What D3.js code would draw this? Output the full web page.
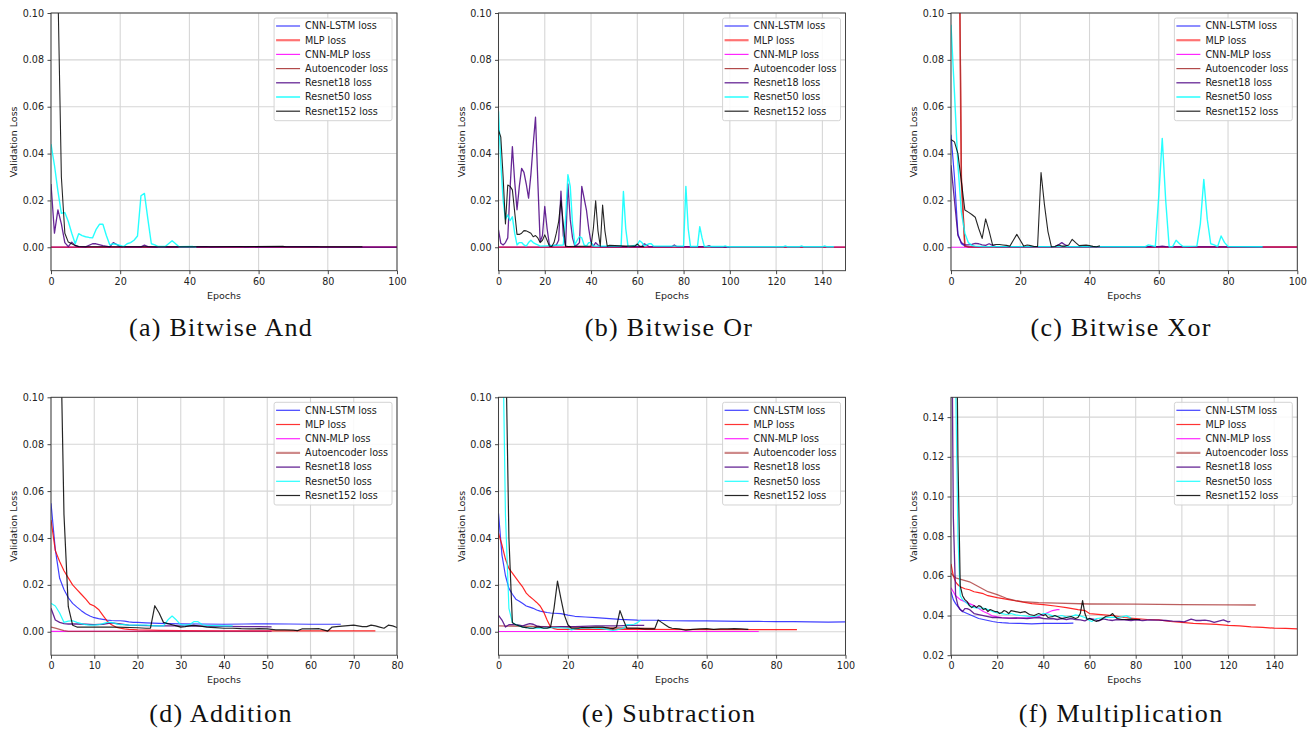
<!DOCTYPE html>
<html>
<head>
<title>Validation loss curves</title>
<script src="https://d3js.org/d3.v7.min.js"></script>
<style>
  body { margin: 0; background: #fff; font-family: "DejaVu Sans", sans-serif; }
  .tick text { font-size: 9.6px; fill: #222; font-family: "DejaVu Sans", sans-serif; }
  .tick line { stroke: #333; stroke-width: 0.9; }
  .lbl { font-size: 9.5px; fill: #222; }
  .leg { font-size: 9.6px; fill: #222; }
  .cap { font-family: "Liberation Serif", serif; font-size: 26px; letter-spacing: 1.3px; fill: #111; }
</style>
</head>
<body>
<svg id="fig" width="1315" height="730"></svg>
<script>
// legend entries and colours, in drawing order
var models = ["CNN-LSTM loss", "MLP loss", "CNN-MLP loss", "Autoencoder loss",
              "Resnet18 loss", "Resnet50 loss", "Resnet152 loss"];
var modelColors = ["#0000ff", "#ff0000", "#ff00ff", "#a52a2a", "#4b0082", "#00ffff", "#000000"];

var captions = ["(a) Bitwise And", "(b) Bitwise Or", "(c) Bitwise Xor",
                "(d) Addition", "(e) Subtraction", "(f) Multiplication"];

var ticks100 = [0, 20, 40, 60, 80, 100];
var ticks150 = [0, 20, 40, 60, 80, 100, 120, 140];
var ticks80 = [0, 10, 20, 30, 40, 50, 60, 70, 80];
var lossTicks = [0, 0.02, 0.04, 0.06, 0.08, 0.10];
var mulTicks = [0.02, 0.04, 0.06, 0.08, 0.10, 0.12, 0.14];

// each series: [epoch, validation loss]
var andLoss = [
  [[0,0],[100,0]],
  [[0,0],[100,0]],
  [[0,0],[100,0]],
  [[0,0],[100,0]],
  [[0,.027],[1,.006],[2,.016],[3,.010],[4,.002],[5,.0003],[6,.0022],[7,.0008],[8,.0003],[10,.0002],[12,.0015],[13,.0015],[15,.0007],[17,.0002],[18,.002],[19,.0012],[20,.0003],[26,.0002],[27,.0009],[28,.0003],[30,.0001],[45,.0003],[46,.0001],[55,.0003],[56,.0001],[77,.0003],[78,.0001],[100,.0001]],
  [[0,.044],[1,.035],[2,.024],[3,.0145],[4,.0148],[5,.011],[6,.006],[7,.0015],[8,.0058],[9,.005],[10,.0045],[11,.0042],[12,.004],[13,.0075],[14,.0098],[15,.0098],[16,.005],[17,.001],[18,.0015],[19,.0012],[20,.0008],[21,.0003],[22,.0015],[23,.002],[24,.003],[25,.0048],[26,.022],[27,.023],[28,.012],[29,.0015],[30,.001],[31,.0003],[33,.0003],[35,.0028],[36,.0015],[37,.0002],[41,.0003],[42,.0001]],
  [[0,.6],[1,.3],[2,.11],[3,.03],[4,.006],[5,.0022],[6,.0015],[7,.0007],[8,.0003],[10,.0002],[20,.0002],[40,.0002],[67,.0004],[68,.0002],[90,.0002]]
];

var orLoss = [
  [[0,0],[150,0]],
  [[0,0],[150,0]],
  [[0,0],[150,0]],
  [[0,0],[150,0]],
  [[0,.0074],[1,.0017],[2,.001],[3,.002],[4,.004],[5,.025],[6,.043],[7,.028],[8,.016],[9,.026],[10,.0337],[11,.032],[12,.027],[13,.021],[14,.031],[15,.044],[16,.0555],[17,.028],[18,.0024],[19,.005],[20,.0174],[21,.008],[22,.001],[23,.0005],[25,.001],[26,.003],[27,.024],[28,.005],[29,.0005],[30,.027],[31,.012],[32,.004],[33,.0005],[34,.001],[35,.002],[36,.026],[37,.021],[38,.016],[39,.008],[40,.002],[41,.0005],[42,.002],[43,.001],[44,.0003],[62,.0003],[63,.0015],[64,.001],[65,.0003],[75,.0003],[76,.001],[77,.0003],[90,.0003],[91,.0007],[92,.0002],[100,.0001]],
  [[0,.058],[1,.036],[2,.02],[3,.012],[4,.0138],[5,.0114],[6,.013],[7,.006],[8,.001],[9,.002],[10,.002],[11,.001],[12,.0005],[13,.002],[14,.003],[15,.002],[16,.0015],[17,.001],[18,.0005],[28,.001],[29,.012],[30,.031],[31,.026],[32,.01],[33,.001],[34,.003],[35,.0046],[36,.004],[37,.001],[38,.0005],[39,.002],[40,.002],[41,.0005],[53,.0005],[54,.0238],[55,.008],[56,.0003],[60,.001],[61,.0028],[62,.002],[63,.0005],[64,.001],[65,.0015],[66,.0015],[67,.0005],[80,.0005],[81,.026],[82,.008],[83,.0003],[86,.0003],[87,.0088],[88,.004],[89,.0003],[97,.0003],[98,.0006],[99,.0002],[123,.0002],[124,.0006],[125,.0002],[130,.0002],[131,.0006],[132,.0002],[140,.0002],[141,.0006],[142,.0002],[145,.0002]],
  [[0,.05],[1,.047],[2,.03],[3,.01],[4,.0266],[5,.026],[6,.0245],[7,.015],[8,.0055],[9,.0055],[10,.006],[11,.0071],[12,.007],[13,.0065],[14,.006],[15,.0045],[16,.005],[17,.004],[18,.002],[19,.003],[20,.0053],[21,.003],[22,.0005],[23,.0003],[24,.002],[25,.006],[26,.011],[27,.02],[28,.01],[29,.0005],[30,.0003],[40,.0005],[41,.008],[42,.0198],[43,.007],[44,.0005],[45,.018],[46,.007],[47,.0005],[48,.0008],[55,.0005],[59,.0005],[60,.0014],[61,.0005],[63,.0002]]
];

var xorLoss = [
  [[0,.048],[1,.03],[2,.0057],[3,.0015],[4,.0005],[5,.0003],[8,.0001],[100,.0001]],
  [[0,.6],[1,.4],[2,.19],[3,.028],[4,.0005],[5,.0001],[100,.0001]],
  [[0,0],[100,0]],
  [[0,.6],[1,.4],[2,.205],[3,.03],[4,.0005],[5,.0001],[100,.0001]],
  [[0,.035],[1,.02],[2,.005],[3,.002],[4,.001],[5,.001],[6,.0012],[7,.0017],[8,.0015],[9,.001],[10,.0008],[11,.0015],[12,.0008],[13,.0003],[30,.0003],[31,.001],[32,.002],[33,.001],[34,.0003],[60,.0003],[61,.0005],[62,.0003],[90,.0002]],
  [[0,.095],[1,.066],[2,.035],[3,.015],[4,.006],[5,.002],[6,.0008],[7,.0005],[9,.0003],[56,.0002],[57,.001],[58,.0007],[59,.0003],[60,.022],[61,.0465],[62,.02],[63,.0002],[64,.0003],[65,.003],[66,.0015],[67,.0003],[71,.0005],[72,.01],[73,.029],[74,.012],[75,.0015],[76,.001],[77,.0003],[78,.0048],[79,.002],[80,.0003],[90,.0002]],
  [[0,.046],[1,.045],[2,.04],[3,.028],[4,.0159],[5,.015],[6,.014],[7,.0128],[8,.008],[9,.0038],[10,.0121],[11,.007],[12,.001],[13,.0012],[14,.0012],[15,.001],[16,.0008],[17,.0005],[18,.003],[19,.0055],[20,.003],[21,.0005],[22,.001],[23,.0007],[24,.0003],[25,.0003],[26,.0319],[27,.018],[28,.0067],[29,.0002],[30,.0003],[31,.001],[32,.0005],[33,.0005],[34,.001],[35,.0034],[36,.002],[37,.0007],[38,.0008],[39,.0009],[40,.0007],[41,.0004],[42,.0002],[43,.0006]]
];

var addLoss = [
  [[0,.0548],[1,.035],[2,.0228],[3,.018],[4,.0145],[5,.0121],[6,.0105],[7,.009],[8,.0077],[9,.0067],[10,.006],[11,.0056],[12,.0053],[13,.005],[14,.0048],[15,.0047],[16,.0047],[17,.0045],[18,.0042],[19,.004],[20,.004],[22,.0038],[25,.0036],[30,.0034],[35,.0033],[40,.0032],[45,.0033],[50,.0034],[55,.0033],[60,.0032],[65,.0032],[67,.0032]],
  [[0,.0477],[1,.0346],[2,.03],[3,.026],[4,.023],[5,.02],[6,.018],[7,.016],[8,.014],[9,.0118],[10,.011],[11,.0095],[12,.007],[13,.0045],[14,.003],[15,.002],[16,.0015],[17,.0012],[18,.001],[20,.0008],[25,.0006],[30,.0005],[40,.0004],[50,.0004],[60,.0004],[75,.0004]],
  [[0,.0002],[51,.0002]],
  [[0,.002],[1,.0015],[2,.001],[3,.0005],[4,.0002],[51,.0002]],
  [[0,.01],[1,.005],[2,.004],[3,.0035],[4,.0033],[6,.0033],[8,.0032],[10,.003],[12,.0032],[14,.0038],[16,.0033],[18,.0028],[20,.0027],[25,.0025],[30,.0025],[35,.0024],[40,.0023],[45,.0022],[48,.0022],[51,.0021]],
  [[0,.0121],[1,.011],[2,.008],[3,.004],[4,.0045],[5,.0047],[6,.004],[7,.0035],[8,.003],[9,.0028],[10,.0028],[11,.003],[12,.0035],[13,.004],[14,.004],[15,.0035],[16,.003],[17,.003],[18,.0028],[20,.0028],[22,.0028],[24,.0025],[26,.0025],[27,.005],[28,.0067],[29,.005],[30,.003],[31,.0028],[32,.003],[33,.0043],[34,.0043],[35,.003],[36,.0027],[38,.0026],[40,.0025],[42,.0025]],
  [[0,.3],[1,.2],[2,.15],[3,.05],[4,.0107],[5,.0028],[6,.002],[7,.002],[10,.002],[15,.002],[20,.0017],[22,.0015],[23,.0015],[24,.0111],[25,.008],[26,.004],[27,.0035],[28,.003],[29,.0025],[30,.002],[31,.0022],[32,.0025],[33,.0027],[34,.0025],[35,.0023],[36,.002],[38,.0018],[40,.0015],[42,.0015],[44,.0013],[46,.0012],[48,.0013],[50,.0012],[52,.0008],[54,.0008],[56,.0007],[57,.0005],[58,.0012],[60,.0012],[62,.0013],[63,.0008],[64,.0003],[65,.002],[66,.0022],[68,.0025],[70,.0028],[72,.0022],[73,.0022],[74,.0028],[75,.0025],[76,.002],[77,.0015],[78,.0028],[79,.0025],[80,.0018]]
];

var subLoss = [
  [[0,.0505],[1,.0327],[2,.024],[3,.0185],[4,.016],[5,.0139],[6,.013],[7,.012],[8,.011],[9,.0105],[10,.01],[11,.0093],[12,.0088],[13,.0085],[14,.0082],[15,.008],[16,.0079],[18,.0077],[20,.0071],[22,.0066],[25,.0063],[28,.006],[30,.0058],[35,.0053],[40,.005],[45,.0049],[50,.0047],[55,.0046],[60,.0046],[65,.0045],[70,.0044],[75,.0044],[80,.0043],[85,.0043],[90,.0042],[95,.0041],[100,.0042]],
  [[0,.042],[1,.037],[2,.031],[3,.027],[4,.025],[5,.023],[6,.021],[7,.019],[8,.0165],[9,.015],[10,.0138],[11,.0125],[12,.011],[13,.0085],[14,.005],[15,.002],[16,.0013],[17,.001],[20,.001],[40,.001],[60,.0009],[86,.0009]],
  [[0,.0001],[75,.0001]],
  [[0,.0025],[10,.0023],[20,.002],[30,.0017],[40,.0015],[45,.0014]],
  [[0,.007],[1,.005],[2,.002],[3,.003],[4,.003],[5,.003],[6,.0028],[7,.0025],[8,.003],[9,.0035],[10,.0032],[11,.0025],[12,.0022],[14,.002],[16,.002],[18,.0022],[20,.0022],[22,.0022],[24,.0023],[26,.0024],[28,.0025],[30,.0025],[32,.0025],[34,.0025],[36,.0026],[38,.0027],[40,.0027],[42,.0027]],
  [[0,.4],[1,.15],[2,.05],[3,.01],[4,.004],[5,.003],[6,.0025],[7,.002],[8,.0018],[10,.0015],[12,.0015],[14,.0016],[16,.0017],[18,.0017],[20,.0015],[21,.0008],[22,.0012],[24,.0015],[26,.0018],[28,.0015],[30,.0013],[32,.0008],[33,.0006],[34,.0008],[36,.0015],[37,.003],[38,.003],[39,.0032],[40,.0038],[41,.005]],
  [[0,.5],[1,.3],[2,.13],[3,.04],[4,.0038],[5,.003],[6,.0025],[7,.002],[8,.0018],[9,.0015],[10,.0015],[11,.002],[12,.002],[13,.0015],[14,.0015],[15,.002],[16,.01],[17,.0216],[18,.014],[19,.007],[20,.003],[21,.0015],[22,.0015],[23,.0015],[24,.0018],[26,.0018],[28,.002],[30,.002],[32,.0015],[33,.0013],[34,.002],[35,.009],[36,.005],[37,.0015],[38,.0015],[40,.0015],[42,.0012],[44,.0012],[45,.0012],[46,.005],[47,.004],[48,.003],[49,.002],[50,.0015],[52,.0012],[54,.0007],[56,.001],[58,.0012],[60,.0013],[62,.001],[64,.0012],[66,.0012],[68,.0013],[70,.0012],[72,.001]]
];

var mulLoss = [
  [[0,.052],[1,.048],[2,.046],[3,.0445],[4,.043],[5,.042],[6,.0415],[8,.0405],[10,.0395],[12,.0385],[14,.038],[16,.0375],[18,.037],[20,.0366],[22,.0364],[25,.0362],[30,.036],[35,.0358],[40,.036],[45,.036],[50,.036],[53,.0362]],
  [[0,.066],[1,.06],[2,.057],[3,.0555],[4,.0545],[6,.0535],[8,.053],[10,.052],[12,.0515],[14,.051],[16,.05],[18,.0495],[20,.049],[25,.048],[30,.047],[35,.046],[40,.0455],[45,.0448],[50,.044],[55,.043],[58,.0425],[60,.041],[65,.0405],[70,.04],[75,.039],[80,.0385],[85,.038],[90,.0378],[95,.037],[100,.0365],[105,.036],[110,.0358],[115,.0355],[120,.035],[125,.0348],[130,.0343],[135,.034],[140,.0336],[145,.0335],[150,.0333]],
  [[0,.054],[1,.052],[2,.05],[4,.048],[6,.047],[8,.046],[10,.045],[12,.0435],[14,.042],[16,.041],[18,.0398],[20,.0393],[22,.039],[25,.0387],[28,.0386],[30,.0387],[33,.0388],[36,.039],[38,.0395],[40,.0405],[42,.0415],[44,.0425],[46,.043],[47,.043]],
  [[0,.0613],[2,.059],[5,.058],[8,.057],[12,.0545],[16,.052],[20,.0505],[24,.0487],[28,.0475],[31,.047],[38,.0465],[46,.0462],[60,.0458],[80,.0457],[100,.0455],[120,.0454],[132,.0453]],
  [[0,.25],[1,.09],[2,.05],[3,.045],[4,.043],[5,.042],[6,.0435],[7,.0435],[8,.043],[9,.042],[10,.041],[12,.0405],[14,.04],[16,.0395],[18,.039],[20,.039],[22,.0388],[25,.0387],[28,.0388],[30,.0387],[33,.0385],[36,.0388],[38,.039],[40,.0385],[42,.0383],[44,.0385],[46,.038],[48,.0385],[50,.038],[52,.0385],[54,.038],[56,.0378],[58,.0373],[60,.0385],[62,.038],[64,.0373],[66,.0383],[68,.0378],[70,.0375],[72,.038],[75,.0378],[78,.0375],[80,.0378],[83,.0375],[86,.0378],[90,.0377],[93,.0375],[96,.0372],[99,.037],[101,.0368],[104,.0382],[106,.0375],[108,.0375],[110,.0377],[112,.0373],[114,.0365],[116,.0372],[118,.0378],[120,.0368],[121,.037]],
  [[0,.5],[1,.3],[2,.16],[3,.08],[4,.05],[5,.048],[6,.047],[7,.046],[8,.045],[10,.044],[12,.0438],[14,.0437],[16,.043],[18,.042],[20,.0415],[22,.041],[24,.0405],[26,.041],[28,.0403],[30,.04],[32,.0398],[34,.0395],[36,.0395],[38,.04],[40,.041],[42,.0408],[44,.0398],[46,.0395],[48,.04],[50,.0392],[52,.0395],[54,.0403],[56,.0398],[58,.039],[60,.0375],[61,.037],[63,.0385],[65,.0387],[68,.039],[70,.0392],[72,.039],[74,.0393],[76,.0398],[78,.0388]],
  [[0,.6],[1,.4],[2,.25],[3,.12],[4,.055],[5,.05],[6,.048],[7,.047],[8,.045],[9,.044],[10,.045],[11,.044],[12,.045],[13,.0445],[14,.043],[15,.0435],[16,.042],[17,.043],[18,.0425],[19,.042],[20,.042],[21,.041],[22,.0415],[23,.0425],[24,.042],[25,.041],[26,.0425],[28,.042],[30,.0415],[32,.042],[34,.0405],[36,.04],[38,.041],[40,.04],[41,.0405],[42,.039],[44,.0395],[45,.04],[46,.0395],[48,.0385],[50,.039],[52,.0395],[54,.0385],[55,.039],[56,.041],[57,.0475],[58,.041],[59,.038],[60,.0385],[62,.0375],[63,.037],[65,.038],[67,.0395],[69,.04],[70,.041],[71,.0395],[72,.0385],[74,.038],[76,.038],[78,.0382],[80,.038],[82,.038]]
];

// line styles per model: plot width / opacity, legend width / opacity
var topStyle = { w: [1.2, 1.6, 1.2, 1.2, 1.3, 1.4, 1.1], o: [0.75, 0.7, 0.85, 0.8, 0.85, 0.85, 0.85],
                 lw: [1.2, 2.2, 1.2, 1.2, 1.3, 1.5, 1.2], lo: [0.75, 0.55, 0.85, 0.85, 0.85, 0.85, 0.85] };
var botStyle = { w: [1.2, 1.2, 1.2, 1.3, 1.3, 1.2, 1.2], o: [0.75, 0.85, 0.85, 0.75, 0.85, 0.85, 0.85],
                 lw: [1.2, 1.2, 1.2, 2.2, 1.3, 1.2, 1.2], lo: [0.75, 0.8, 0.85, 0.55, 0.85, 0.85, 0.85] };

var panels = [
  { cap: captions[0], data: andLoss, xMax: 100, xTicks: ticks100, yDom: [-0.01, 0.10], yTicks: lossTicks, row: 0, col: 0, st: topStyle },
  { cap: captions[1], data: orLoss,  xMax: 150, xTicks: ticks150, yDom: [-0.01, 0.10], yTicks: lossTicks, row: 0, col: 1, st: topStyle },
  { cap: captions[2], data: xorLoss, xMax: 100, xTicks: ticks100, yDom: [-0.01, 0.10], yTicks: lossTicks, row: 0, col: 2, st: topStyle },
  { cap: captions[3], data: addLoss, xMax: 80,  xTicks: ticks80,  yDom: [-0.01, 0.10], yTicks: lossTicks, row: 1, col: 0, st: botStyle },
  { cap: captions[4], data: subLoss, xMax: 100, xTicks: ticks100, yDom: [-0.01, 0.10], yTicks: lossTicks, row: 1, col: 1, st: botStyle },
  { cap: captions[5], data: mulLoss, xMax: 150, xTicks: ticks150, yDom: [0.02, 0.15],  yTicks: mulTicks,  row: 1, col: 2, st: botStyle }
];

var colX = [[51, 397], [498.5, 845.5], [951, 1297.3]];
var rowY = [[13, 270.7], [397.3, 655.2]];

var svg = d3.select('#fig');
var defs = svg.append('defs');

panels.forEach(function(p, i) {
	var x0 = colX[p.col][0], x1 = colX[p.col][1];
	var y0 = rowY[p.row][0], y1 = rowY[p.row][1];

	var x = d3.scaleLinear().domain([0, p.xMax]).range([x0, x1]);
	var y = d3.scaleLinear().domain(p.yDom).range([y1, y0]);

	var g = svg.append('g');

	// grid
	g.selectAll('.gx').data(p.xTicks).enter().append('line')
		.attr('x1', function(d) { return x(d); }).attr('x2', function(d) { return x(d); })
		.attr('y1', y0).attr('y2', y1)
		.attr('stroke', '#d6d6d6').attr('stroke-width', 1.1);
	g.selectAll('.gy').data(p.yTicks).enter().append('line')
		.attr('y1', function(d) { return y(d); }).attr('y2', function(d) { return y(d); })
		.attr('x1', x0).attr('x2', x1)
		.attr('stroke', '#d6d6d6').attr('stroke-width', 1.1);

	defs.append('clipPath').attr('id', 'clip' + i)
		.append('rect').attr('x', x0).attr('y', y0).attr('width', x1 - x0).attr('height', y1 - y0);

	var line = d3.line()
		.x(function(d) { return x(d[0]); })
		.y(function(d) { return y(d[1]); });

	g.append('g').attr('clip-path', 'url(#clip' + i + ')')
		.selectAll('path').data(p.data).enter().append('path')
		.attr('d', line)
		.attr('fill', 'none')
		.attr('stroke', function(d, k) { return modelColors[k]; })
		.attr('stroke-width', function(d, k) { return p.st.w[k]; })
		.attr('stroke-opacity', function(d, k) { return p.st.o[k]; })
		.attr('stroke-linejoin', 'round');

	// axes
	var xa = g.append('g').attr('transform', 'translate(0,' + y1 + ')')
		.call(d3.axisBottom(x).tickValues(p.xTicks).tickSize(3.5).tickPadding(3.5).tickFormat(d3.format('d')));
	var ya = g.append('g').attr('transform', 'translate(' + x0 + ',0)')
		.call(d3.axisLeft(y).tickValues(p.yTicks).tickSize(3.5).tickPadding(3.5).tickFormat(d3.format('.2f')));
	xa.select('.domain').remove();
	ya.select('.domain').remove();

	g.append('rect')
		.attr('x', x0).attr('y', y0).attr('width', x1 - x0).attr('height', y1 - y0)
		.attr('fill', 'none').attr('stroke', '#333').attr('stroke-width', 0.9);

	g.append('text').attr('class', 'lbl')
		.attr('x', (x0 + x1) / 2).attr('y', y1 + 28)
		.attr('text-anchor', 'middle')
		.text('Epochs');
	g.append('text').attr('class', 'lbl')
		.attr('transform', 'translate(' + (x0 - 34) + ',' + ((y0 + y1) / 2) + ') rotate(-90)')
		.attr('text-anchor', 'middle')
		.text('Validation Loss');

	// legend
	var lg = g.append('g');
	var box = lg.append('rect');
	var items = lg.selectAll('g').data(models).enter().append('g');
	items.append('line')
		.attr('x1', 2).attr('x2', 26)
		.attr('y1', function(d, k) { return 8 + k * 14.2; })
		.attr('y2', function(d, k) { return 8 + k * 14.2; })
		.attr('stroke', function(d, k) { return modelColors[k]; })
		.attr('stroke-width', function(d, k) { return p.st.lw[k]; })
		.attr('stroke-opacity', function(d, k) { return p.st.lo[k]; });
	items.append('text').attr('class', 'leg')
		.attr('x', 31)
		.attr('y', function(d, k) { return 8 + k * 14.2; })
		.attr('dy', '0.35em')
		.text(function(d) { return d; });
	var tw = d3.max(items.selectAll('text').nodes(), function(n) { return n.getComputedTextLength(); });
	var bw = 31 + tw + 4, bh = 8 + 6 * 14.2 + 9.5;
	box.attr('width', bw).attr('height', bh).attr('rx', 2)
		.attr('fill', '#fff').attr('fill-opacity', 0.85)
		.attr('stroke', '#cfcfcf').attr('stroke-width', 0.9);
	lg.attr('transform', 'translate(' + (x1 - 5 - bw) + ',' + (y0 + 5) + ')');

	// caption
	svg.append('text').attr('class', 'cap')
		.attr('x', (x0 + x1) / 2 - 3).attr('y', p.row === 0 ? 336 : 722)
		.attr('text-anchor', 'middle')
		.text(p.cap);
});
</script>
</body>
</html>
